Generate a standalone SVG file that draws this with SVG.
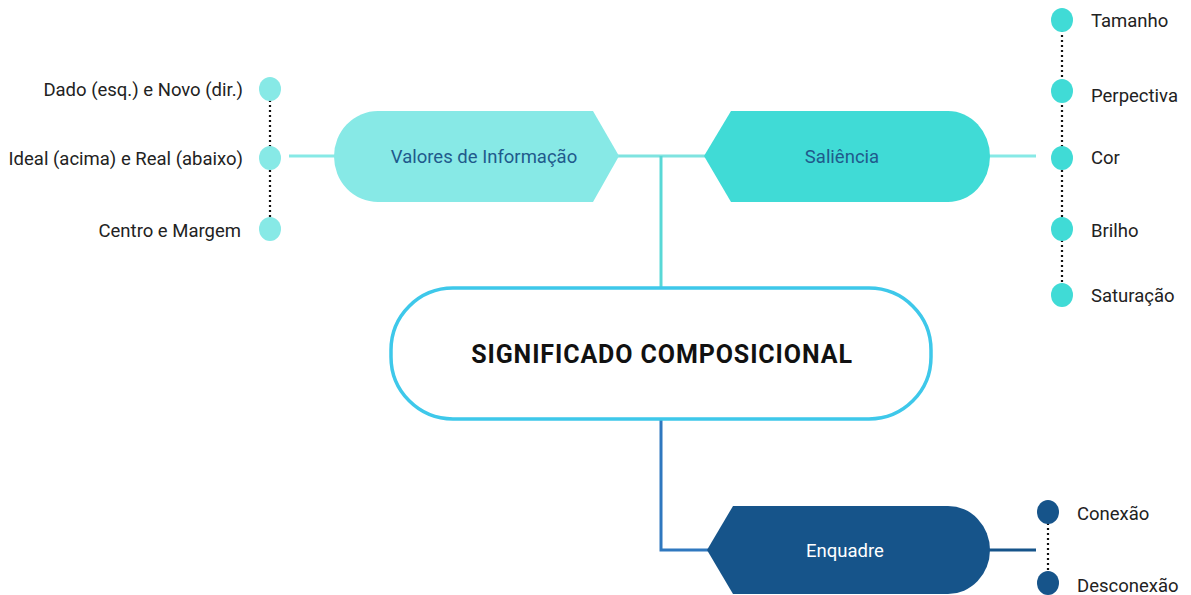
<svg xmlns="http://www.w3.org/2000/svg" width="1191" height="595" viewBox="0 0 1191 595">
<style>
.lbl{font-family:Roboto,"Liberation Sans",sans-serif;font-size:18.5px;fill:#222;}
.nl{font-family:Roboto,"Liberation Sans",sans-serif;font-size:18.5px;text-anchor:middle;dominant-baseline:central;}
.dots{stroke:#111;stroke-width:2.2;stroke-dasharray:2 3;fill:none;}
</style>
<rect width="1191" height="595" fill="#fff"/>
<g id="connectors" fill="none">
  <line x1="289" y1="156" x2="336" y2="156" stroke="#87e9e6" stroke-width="3"/>
  <line x1="617" y1="156" x2="706" y2="156" stroke="#7fe3e0" stroke-width="3"/>
  <line x1="661" y1="156" x2="661" y2="288" stroke="#58d8d6" stroke-width="3"/>
  <line x1="988" y1="156" x2="1036" y2="156" stroke="#87e9e6" stroke-width="3"/>
  <polyline points="661,420 661,550 708,550" stroke="#2f78bf" stroke-width="3"/>
  <line x1="988" y1="550" x2="1036" y2="550" stroke="#16548a" stroke-width="3"/>
  <line class="dots" x1="270" y1="100" x2="270" y2="218"/>
  <line class="dots" x1="1062" y1="30" x2="1062" y2="286"/>
  <line class="dots" x1="1048" y1="523" x2="1048" y2="573"/>
</g>
<g id="valores">
  <path d="M378,111 H593 L619,156 L593,202 H378 A44,45.5 0 0 1 378,111 Z" fill="#87e9e6"/>
  <text class="nl" x="484" y="157" fill="#1f5a8c">Valores de Informação</text>
</g>
<g id="saliencia">
  <path d="M704,156 L731,111 H948 A42,45.5 0 0 1 948,202 H731 Z" fill="#40dbd6"/>
  <text class="nl" x="842" y="157" fill="#1f5a8c">Saliência</text>
</g>
<g id="central">
  <rect x="391" y="288" width="540" height="131" rx="62" ry="62" fill="#fff" stroke="#3ec8ea" stroke-width="3.5"/>
  <text x="662" y="354" font-family="Roboto,'Liberation Sans',sans-serif" font-size="25" font-weight="bold" letter-spacing="0.9" text-anchor="middle" dominant-baseline="central" fill="#111">SIGNIFICADO COMPOSICIONAL</text>
</g>
<g id="enquadre">
  <path d="M707,550 L733,506 H948 A42,44 0 0 1 948,594 H733 Z" fill="#16548a"/>
  <text class="nl" x="845" y="551" fill="#fff">Enquadre</text>
</g>
<g id="left-items" fill="#87e9e6">
  <ellipse cx="270" cy="89" rx="11" ry="12"/>
  <ellipse cx="270" cy="158" rx="11" ry="12"/>
  <ellipse cx="270" cy="229" rx="11" ry="12"/>
  <text class="lbl" x="243" y="96" text-anchor="end">Dado (esq.) e Novo (dir.)</text>
  <text class="lbl" x="243" y="165" text-anchor="end">Ideal (acima) e Real (abaixo)</text>
  <text class="lbl" x="241" y="237" text-anchor="end">Centro e Margem</text>
</g>
<g id="right-items" fill="#40dbd6">
  <ellipse cx="1062" cy="20" rx="11" ry="12"/>
  <ellipse cx="1062" cy="91" rx="11" ry="12"/>
  <ellipse cx="1062" cy="158" rx="11" ry="12"/>
  <ellipse cx="1062" cy="229" rx="11" ry="12"/>
  <ellipse cx="1062" cy="295" rx="11" ry="12"/>
  <text class="lbl" x="1091" y="27">Tamanho</text>
  <text class="lbl" x="1091" y="102">Perpectiva</text>
  <text class="lbl" x="1091" y="164">Cor</text>
  <text class="lbl" x="1091" y="237">Brilho</text>
  <text class="lbl" x="1091" y="302">Saturação</text>
</g>
<g id="enquadre-items" fill="#16548a">
  <ellipse cx="1048" cy="512" rx="11" ry="12"/>
  <ellipse cx="1048" cy="583" rx="11" ry="12"/>
  <text class="lbl" x="1077" y="520">Conexão</text>
  <text class="lbl" x="1077" y="592">Desconexão</text>
</g>
</svg>
